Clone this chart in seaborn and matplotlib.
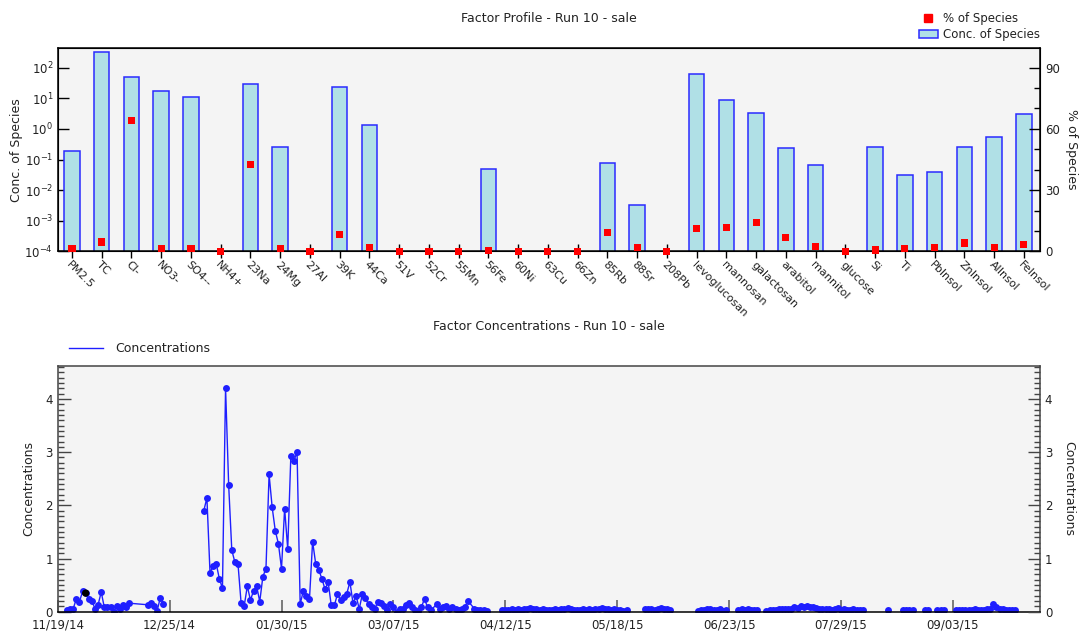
import numpy as np
import pandas as pd
import matplotlib
matplotlib.use("Agg")
import matplotlib.pyplot as plt
import matplotlib.ticker as mticker
from matplotlib.lines import Line2D
from matplotlib.patches import Patch
import seaborn as sns

# ---------------- factor profile ----------------
species = ["PM2.5", "TC", "Cl-", "NO3-", "SO4--", "NH4+", "23Na", "24Mg", "27Al",
           "39K", "44Ca", "51V", "52Cr", "55Mn", "56Fe", "60Ni", "63Cu", "66Zn",
           "85Rb", "88Sr", "208Pb", "levoglucosan", "mannosan", "galactosan",
           "arabitol", "mannitol", "glucose", "Si", "Ti", "PbInsol", "ZnInsol",
           "AlInsol", "FeInsol"]
conc_of_species = [0.19, 314, 49, 17.7, 11, 0, 29, 0.26, 0,
                   23.6, 1.33, 0, 0, 0, 0.050, 0, 0, 0,
                   0.079, 0.0032, 0, 59.6, 8.5, 3.4,
                   0.23, 0.064, 0, 0.26, 0.031, 0.040, 0.26,
                   0.53, 3.05]
pct_of_species = [1.2, 4.6, 64.2, 1.2, 1.2, 0, 42.7, 1.2, 0,
                  8.1, 1.7, 0, 0, 0, 0.5, 0, 0, 0,
                  9.3, 1.7, 0, 11.1, 11.7, 14.0,
                  6.9, 2.2, 0, 0.7, 1.2, 1.9, 4.1,
                  1.9, 3.4]

# ---------------- factor contributions (daily runs) ----------------
# each run: first sampling day and the consecutive daily values
run1_a_start, run1_a = "2014-11-22", [0.04, 0.05, 0.06, 0.24, 0.19, 0.38, 0.35, 0.24, 0.20, 0.06,
                                      0.13, 0.37, 0.08, 0.08, 0.09, 0.00, 0.11, 0.05, 0.13, 0.08, 0.16]
run1_b_start, run1_b = "2014-12-18", [0.13, 0.16, 0.10, 0.02, 0.26, 0.15]
run2_a_start, run2_a = "2015-01-05", [1.90, 2.14, 0.73, 0.86, 0.90, 0.62, 0.44, 4.21, 2.38, 1.16,
                                      0.93, 0.90, 0.16, 0.11, 0.48, 0.22, 0.39, 0.48, 0.19, 0.66,
                                      0.81, 2.58, 1.96, 1.52, 1.28, 0.81, 1.94, 1.18, 2.93, 2.84,
                                      3.00, 0.14, 0.39, 0.29, 0.24, 1.32, 0.90, 0.78, 0.62, 0.42,
                                      0.56, 0.12, 0.12, 0.33, 0.22, 0.27, 0.34, 0.56, 0.16, 0.30, 0.05]
run2_b_start, run2_b = "2015-02-25", [0.33, 0.25, 0.14, 0.08, 0.06, 0.18, 0.16, 0.11, 0.04, 0.14,
                                      0.09, 0.00, 0.05, 0.06, 0.13, 0.16, 0.08, 0.03, 0.01, 0.09,
                                      0.24, 0.08, 0.03]
run2_c_start, run2_c = "2015-03-21", [0.14, 0.06, 0.08, 0.11, 0.06, 0.09, 0.06, 0.03, 0.06, 0.09, 0.20]
run2_d_start, run2_d = "2015-04-02", [0.06, 0.03, 0.03, 0.03, 0.02]
run3_start, run3 = "2015-04-11", [0.04, 0.03, 0.04, 0.05, 0.04, 0.05, 0.04, 0.05, 0.06, 0.07,
                                  0.06, 0.05, 0.04, 0.05, 0.04, 0.03, 0.04, 0.05, 0.04, 0.05,
                                  0.06, 0.07, 0.05, 0.04, 0.03, 0.04, 0.05, 0.04, 0.05, 0.04,
                                  0.05, 0.06, 0.07, 0.06, 0.05, 0.04, 0.05, 0.03, 0.04, 0.02, 0.03]
run4_start, run4 = "2015-05-27", [0.05, 0.06, 0.05, 0.04, 0.06, 0.07, 0.05, 0.06, 0.04]
run5_start, run5 = "2015-06-13", [0.01, 0.03, 0.04, 0.05, 0.05, 0.04, 0.03, 0.05, 0.02, 0.03]
run6_start, run6 = "2015-06-26", [0.04, 0.05, 0.04, 0.05, 0.04, 0.03, 0.04]
run7_start, run7 = "2015-07-05", [0.02, 0.03, 0.04, 0.04, 0.05, 0.05, 0.06, 0.05, 0.06, 0.08,
                                  0.07, 0.10, 0.09, 0.11, 0.08, 0.09, 0.07, 0.06, 0.06, 0.05,
                                  0.06, 0.04, 0.05, 0.07, 0.04, 0.05, 0.03, 0.04, 0.05, 0.04,
                                  0.03, 0.04]
run8_start, run8 = "2015-08-13", [0.03]
run9_start, run9 = "2015-08-18", [0.04, 0.03, 0.04, 0.03]
run10_start, run10 = "2015-08-25", [0.03, 0.03]
run11_start, run11 = "2015-08-29", [0.03, 0.04, 0.03]
run12_start, run12 = "2015-09-04", [0.03, 0.04, 0.03, 0.04, 0.03, 0.04, 0.05, 0.04, 0.03, 0.04,
                                    0.05, 0.06, 0.14, 0.08, 0.06, 0.05, 0.04, 0.04, 0.03, 0.03]
highlight_date, highlight_value = "2014-11-28", 0.35
date_ticks = ["11/19/14", "12/25/14", "01/30/15", "03/07/15", "04/12/15",
              "05/18/15", "06/23/15", "07/29/15", "09/03/15"]
date_start, date_end = "2014-11-19", "2015-10-01"

segments = [
    (1, run1_a_start, run1_a), (1, run1_b_start, run1_b),
    (2, run2_a_start, run2_a), (2, run2_b_start, run2_b),
    (2, run2_c_start, run2_c), (2, run2_d_start, run2_d),
    (3, run3_start, run3), (4, run4_start, run4), (5, run5_start, run5),
    (6, run6_start, run6), (7, run7_start, run7), (8, run8_start, run8),
    (9, run9_start, run9), (10, run10_start, run10), (11, run11_start, run11),
    (12, run12_start, run12),
]
frames = []
for run_id, start, vals in segments:
    frames.append(pd.DataFrame({
        "date": pd.date_range(start, periods=len(vals), freq="D"),
        "conc": vals,
        "run": run_id,
    }))
contrib = pd.concat(frames, ignore_index=True)

# ---------------- styling ----------------
plt.rcParams["font.family"] = ["DejaVu Sans"]
text_col = "#222222"
bar_face = "#b0e0e6"
bar_edge = "#2a2aff"
panel_bg = "#f4f4f4"

W, H = 1084, 634
fig = plt.figure(figsize=(W / 100, H / 100), dpi=100)


def axes_px(left, top, right, bottom):
    return fig.add_axes([left / W, 1 - bottom / H, (right - left) / W, (bottom - top) / H])


# ================= top: profile =================
ax = axes_px(58, 48, 1040, 251.4)
ax.set_facecolor(panel_bg)
sns.barplot(x=species, y=conc_of_species, order=species, color=bar_face, saturation=1,
            edgecolor=bar_edge, linewidth=1.1, width=0.52, ax=ax, zorder=2)
ax.set_yscale("log")
ax.set_ylim(1e-4, 10 ** 2.64)
ax.yaxis.set_major_locator(mticker.LogLocator(base=10, numticks=20))
ax.yaxis.set_minor_locator(mticker.NullLocator())
ax.set_xticks(range(len(species)))
ax.set_xticklabels(species, rotation=-45, ha="left", va="top",
                   rotation_mode="anchor", fontsize=8, color=text_col)
ax.tick_params(axis="x", direction="inout", length=10, width=1, pad=1)
ax.tick_params(axis="y", direction="in", length=8, width=1, labelsize=8.5,
               labelcolor=text_col)
ax.set_xlabel("")
ax.set_ylabel("Conc. of Species", fontsize=9, color=text_col)
ax.yaxis.set_label_coords(-0.036, 0.5)
for s in ax.spines.values():
    s.set_color("black")
    s.set_linewidth(1.1)

ax2 = ax.twinx()
sns.scatterplot(x=np.arange(len(species)), y=pct_of_species, marker="s", color="red",
                s=26, edgecolor="none", ax=ax2, clip_on=False, zorder=5, legend=False)
ax2.set_ylim(0, 99.6)
ax2.yaxis.set_major_locator(mticker.MultipleLocator(30))
ax2.yaxis.set_minor_locator(mticker.MultipleLocator(10))
ax2.tick_params(axis="y", which="major", direction="in", length=8, width=1,
                labelsize=8.5, labelcolor=text_col)
ax2.tick_params(axis="y", which="minor", direction="in", length=4, width=1)
ax2.set_ylabel("% of Species", fontsize=9, color=text_col, rotation=270, va="center")
ax2.yaxis.set_label_coords(1.032, 0.5)
ax.set_xlim(-0.47, len(species) - 0.46)

fig.text(549 / W, 1 - 18 / H, "Factor Profile - Run 10 - sale", ha="center", va="center",
         fontsize=9, color=text_col)
fig.legend([Line2D([], [], marker="s", color="red", linestyle="none", markersize=5.2),
            Patch(facecolor=bar_face, edgecolor=bar_edge, linewidth=1.1)],
           ["% of Species", "Conc. of Species"],
           loc="center right", bbox_to_anchor=(1040 / W, 1 - 26.5 / H), frameon=False,
           fontsize=8.5, handlelength=1.6, handletextpad=0.45, labelspacing=0.25,
           borderpad=0, borderaxespad=0, labelcolor=text_col)

# ================= bottom: contributions =================
axb = axes_px(57.7, 366, 1040, 611.7)
axb.set_facecolor(panel_bg)
line_col = "#1f1fff"
sns.lineplot(data=contrib, x="date", y="conc", units="run", estimator=None,
             color=line_col, linewidth=1.0, marker="o", markersize=5,
             markeredgewidth=0, ax=axb, legend=False)
sns.scatterplot(x=[pd.Timestamp(highlight_date)], y=[highlight_value], color="black",
                s=28, edgecolor="none", ax=axb, zorder=5, legend=False)
axb.set_xlim(pd.Timestamp(date_start), pd.Timestamp(date_end))
axb.set_ylim(0, 4.62)
tick_pos = [pd.Timestamp(pd.to_datetime(t, format="%m/%d/%y")) for t in date_ticks]
axb.set_xticks(tick_pos)
axb.set_xticklabels(date_ticks, fontsize=8.5, color=text_col)
axb.tick_params(axis="x", direction="in", length=9, width=1.2, color="#666666", pad=5)
axb.yaxis.set_major_locator(mticker.MultipleLocator(1))
axb.yaxis.set_minor_locator(mticker.MultipleLocator(0.1))
axb.tick_params(axis="y", which="major", direction="in", length=9, width=1,
                labelsize=8.5, labelcolor=text_col, color="#444444")
axb.tick_params(axis="y", which="minor", direction="in", length=4.5, width=1, color="#444444")
axb.set_xlabel("")
axb.set_ylabel("Concentrations", fontsize=9, color=text_col)
axb.yaxis.set_label_coords(-0.023, 0.5)
for name, s in axb.spines.items():
    s.set_color("black" if name == "bottom" else "#444444")
    s.set_linewidth(1.1)

axb2 = axb.twinx()
axb2.set_ylim(0, 4.62)
axb2.yaxis.set_major_locator(mticker.MultipleLocator(1))
axb2.yaxis.set_minor_locator(mticker.MultipleLocator(0.1))
axb2.tick_params(axis="y", which="major", direction="in", length=9, width=1,
                 labelsize=8.5, labelcolor=text_col, color="#444444")
axb2.tick_params(axis="y", which="minor", direction="in", length=4.5, width=1, color="#444444")
axb2.set_ylabel("Concentrations", fontsize=9, color=text_col, rotation=270, va="center")
axb2.yaxis.set_label_coords(1.029, 0.5)
for s in axb2.spines.values():
    s.set_visible(False)

fig.text(549 / W, 1 - 326 / H, "Factor Concentrations - Run 10 - sale", ha="center",
         va="center", fontsize=9, color=text_col)
fig.legend([Line2D([], [], color=line_col, linewidth=1.0)], ["Concentrations"],
           loc="center left", bbox_to_anchor=(69 / W, 1 - 349 / H), frameon=False,
           fontsize=9, handlelength=2.7, handletextpad=1.0, borderpad=0,
           borderaxespad=0, labelcolor=text_col)

fig.savefig("out.png", dpi=100, facecolor="white")
